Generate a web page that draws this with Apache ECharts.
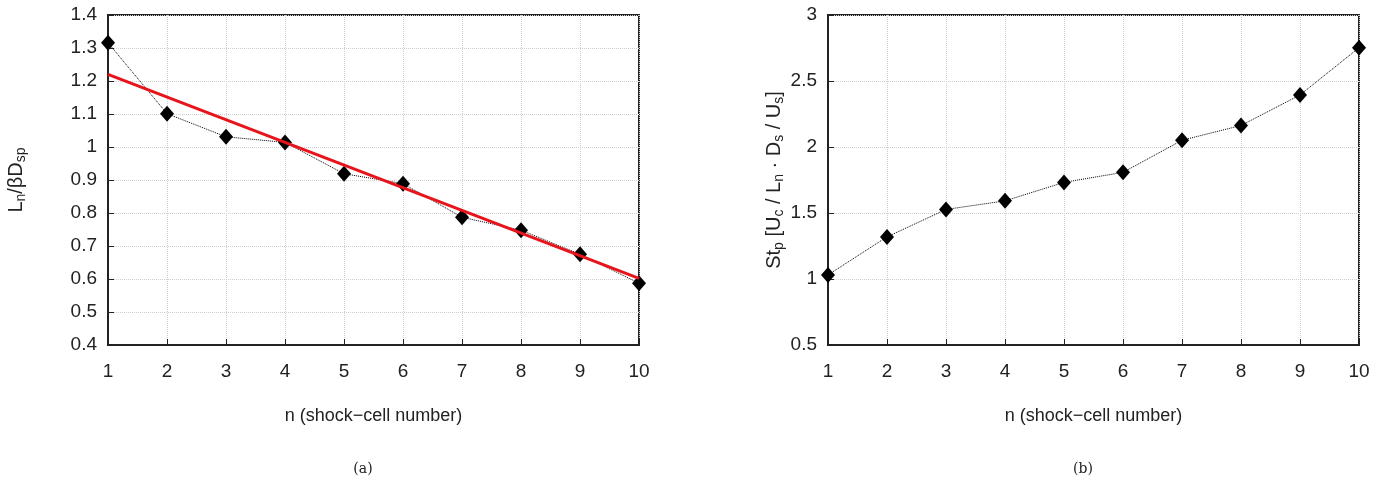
<!DOCTYPE html>
<html>
<head>
<meta charset="utf-8">
<script src="https://cdn.jsdelivr.net/npm/echarts@6/dist/echarts.min.js"></script>
<style>
  html, body { margin: 0; padding: 0; background: #fff; }
  #chart { width: 1378px; height: 489px; }
</style>
</head>
<body>
<div id="chart"></div>
<script>
  // shock-cell number
  var cellNo = [1, 2, 3, 4, 5, 6, 7, 8, 9, 10];
  // (a) L_n / beta D_sp
  var lenRatio = [1.316, 1.101, 1.031, 1.014, 0.919, 0.889, 0.787, 0.748, 0.675, 0.587];
  // (a) linear fit, end points
  var fitX = [1, 10];
  var fitY = [1.220, 0.602];
  // (b) Strouhal number St_p
  var stp = [1.031, 1.319, 1.527, 1.592, 1.732, 1.808, 2.051, 2.163, 2.394, 2.752];

  var captions = ['(a)', '(b)'];
  var xName = 'n (shock\u2212cell number)';

  function pairs(xs, ys) {
    var out = [];
    for (var i = 0; i < xs.length; i++) out.push([xs[i], ys[i]]);
    return out;
  }

  var font = 'Liberation Sans, Arial, sans-serif';
  var tickStyle = { color: '#222', fontSize: 19, fontFamily: font };
  var subRich = {
    sub: { fontSize: 14, fontFamily: font, color: '#222', verticalAlign: 'bottom', lineHeight: 14, padding: [9, 0, 0, 0] }
  };

  function xAxisOf(idx) {
    return {
      gridIndex: idx, type: 'value', min: 1, max: 10, interval: 1,
      name: xName, nameLocation: 'middle', nameGap: 62,
      nameTextStyle: { color: '#222', fontSize: 18, fontFamily: font },
      axisLine: { lineStyle: { color: '#222', width: 2 } },
      axisTick: { inside: true, length: 6, lineStyle: { color: '#222' } },
      axisLabel: Object.assign({ margin: 17 }, tickStyle),
      splitLine: { show: true, lineStyle: { color: '#cfcfcf', type: 'dotted', width: 1 } }
    };
  }

  function yAxisOf(idx, min, max, step, name, gap) {
    return {
      gridIndex: idx, type: 'value', min: min, max: max, interval: step,
      name: name, nameLocation: 'middle', nameGap: gap,
      nameTextStyle: { color: '#222', fontSize: 20, fontFamily: font, lineHeight: 24, rich: subRich },
      axisLine: { show: true, lineStyle: { color: '#222', width: 2 } },
      axisTick: { show: true, inside: true, length: 6, lineStyle: { color: '#222' } },
      axisLabel: Object.assign({ margin: 11 }, tickStyle),
      splitLine: { show: true, lineStyle: { color: '#cfcfcf', type: 'dotted', width: 1 } }
    };
  }

  var chart = echarts.init(document.getElementById('chart'));
  chart.setOption({
    backgroundColor: '#fff',
    animation: false,
    title: [
      { text: captions[0], left: 358, top: 457, textAlign: 'center',
        textStyle: { fontFamily: 'DejaVu Serif, serif', fontWeight: 'normal', fontSize: 14, color: '#222' } },
      { text: captions[1], left: 1078, top: 457, textAlign: 'center',
        textStyle: { fontFamily: 'DejaVu Serif, serif', fontWeight: 'normal', fontSize: 14, color: '#222' } }
    ],
    grid: [
      { left: 108, top: 15, width: 531, height: 330, show: true, borderColor: '#222', borderWidth: 2 },
      { left: 828, top: 15, width: 531, height: 330, show: true, borderColor: '#222', borderWidth: 2 }
    ],
    xAxis: [xAxisOf(0), xAxisOf(1)],
    yAxis: [
      yAxisOf(0, 0.4, 1.4, 0.1, 'L{sub|n}/\u03b2D{sub|sp}', 80),
      yAxisOf(1, 0.5, 3, 0.5, 'St{sub|p} [U{sub|c} / L{sub|n} \u00b7 D{sub|s} / U{sub|s}]', 42)
    ],
    series: [
      {
        type: 'line', xAxisIndex: 0, yAxisIndex: 0,
        data: pairs(cellNo, lenRatio),
        symbol: 'diamond', symbolSize: [14, 16],
        itemStyle: { color: '#000' },
        lineStyle: { color: '#000', width: 1, type: 'dotted' },
        z: 3
      },
      {
        type: 'line', xAxisIndex: 0, yAxisIndex: 0,
        data: pairs(fitX, fitY),
        symbol: 'none',
        lineStyle: { color: '#e8141c', width: 3 },
        z: 4
      },
      {
        type: 'line', xAxisIndex: 1, yAxisIndex: 1,
        data: pairs(cellNo, stp),
        symbol: 'diamond', symbolSize: [14, 16],
        itemStyle: { color: '#000' },
        lineStyle: { color: '#000', width: 1, type: 'dotted' },
        z: 3
      }
    ]
  });
</script>
</body>
</html>
